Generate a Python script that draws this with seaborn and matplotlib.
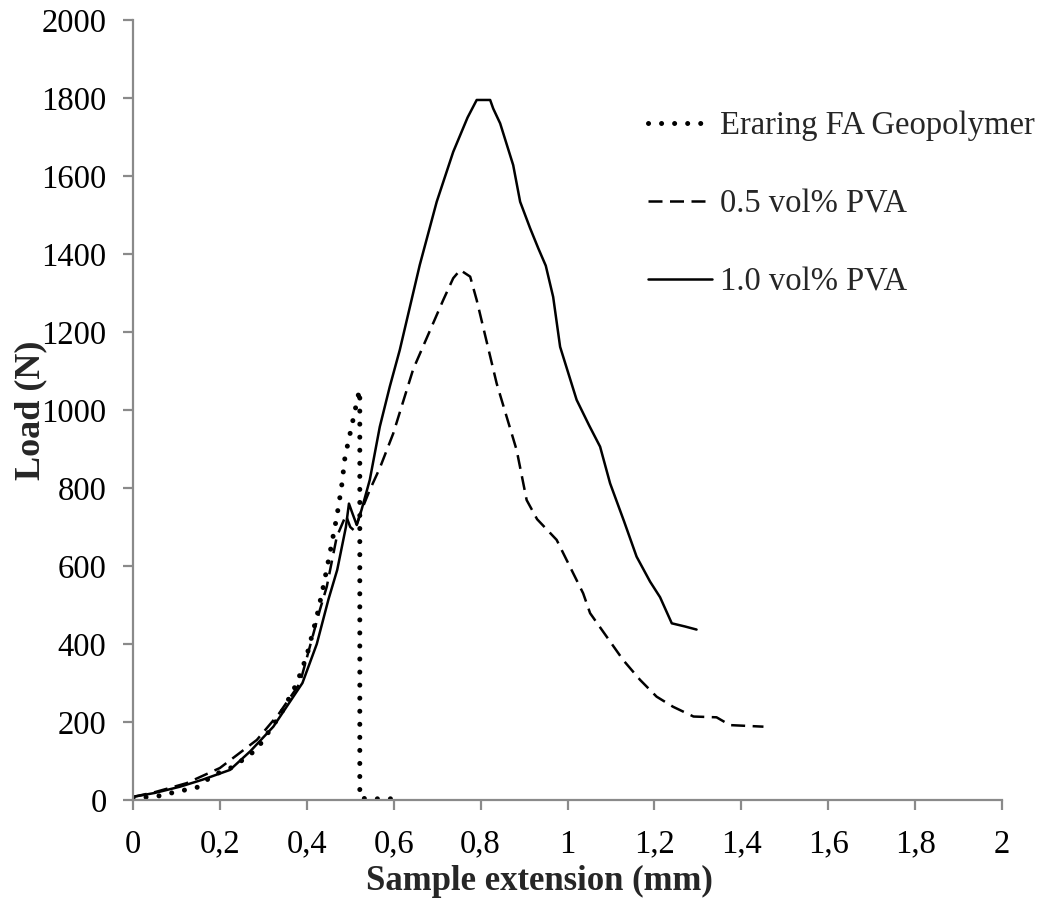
import matplotlib
matplotlib.use("Agg")
import matplotlib.pyplot as plt
import seaborn as sns
import pandas as pd

# ---------------- data ----------------
series_names = ["Eraring FA Geopolymer", "0.5 vol% PVA", "1.0 vol% PVA"]

geo_x = [0, 0.054, 0.10, 0.147, 0.185, 0.231, 0.285, 0.34, 0.377, 0.40, 0.423,
         0.438, 0.453, 0.469, 0.480, 0.488, 0.503, 0.515, 0.521, 0.522, 0.522,
         0.54, 0.575, 0.607]
geo_y = [5, 9, 21, 32, 64, 85, 130, 220, 299, 370, 470,
         547, 632, 726, 803, 880, 957, 1020, 1051, 1040, 5,
         3, 3, 3]

pva05_x = [0, 0.05, 0.123, 0.2, 0.285, 0.335, 0.384, 0.43, 0.446, 0.469, 0.49,
           0.50, 0.51, 0.525, 0.545, 0.568, 0.599, 0.645, 0.714, 0.737, 0.753,
           0.776, 0.791, 0.837, 0.883, 0.906, 0.93, 0.975, 1.036, 1.052, 1.09,
           1.128, 1.167, 1.205, 1.243, 1.29, 1.343, 1.374, 1.451]
pva05_y = [8, 20, 43, 82, 154, 220, 299, 487, 547, 675, 730,
           700, 690, 740, 795, 851, 940, 1105, 1282, 1338, 1359,
           1342, 1282, 1068, 897, 769, 720, 667, 530, 479, 419,
           359, 308, 265, 239, 214, 212, 192, 188]

pva10_x = [0, 0.05, 0.108, 0.16, 0.223, 0.27, 0.323, 0.39, 0.423, 0.45, 0.47,
           0.49, 0.497, 0.505, 0.515, 0.526, 0.545, 0.568, 0.591, 0.614, 0.66,
           0.699, 0.737, 0.77, 0.791, 0.822, 0.829, 0.845, 0.875, 0.891, 0.914,
           0.933, 0.95, 0.967, 0.983, 1.021, 1.05, 1.075, 1.098, 1.13, 1.159,
           1.19, 1.213, 1.24, 1.27, 1.297]
pva10_y = [8, 18, 34, 52, 77, 125, 188, 300, 400, 515, 590,
           700, 760, 735, 705, 744, 821, 957, 1060, 1154, 1372,
           1534, 1662, 1750, 1795, 1795, 1773, 1735, 1628, 1534, 1466,
           1414, 1370, 1290, 1162, 1026, 960, 906, 812, 715, 624,
           560, 520, 453, 445, 437]

x_ticks = [0, 0.2, 0.4, 0.6, 0.8, 1.0, 1.2, 1.4, 1.6, 1.8, 2.0]
x_tick_labels = ["0", "0,2", "0,4", "0,6", "0,8", "1", "1,2", "1,4", "1,6", "1,8", "2"]
y_ticks = [0, 200, 400, 600, 800, 1000, 1200, 1400, 1600, 1800, 2000]

x_label = "Sample extension (mm)"
y_label = "Load (N)"

# ---------------- styling ----------------
sns.set_theme(style="ticks")
plt.rcParams["font.family"] = ["Liberation Serif", "DejaVu Serif"]

fig = plt.figure(figsize=(10.39, 9.02), dpi=100)
ax = fig.add_axes([0.128, 0.1131, 0.8364, 0.8647])

styles = [
    dict(linestyle=(0, (0.01, 2.6)), linewidth=3.6, dash_capstyle="round"),
    dict(linestyle=(0, (5.6, 3.0)), linewidth=1.8, dash_capstyle="butt"),
    dict(linestyle="-", linewidth=1.8),
]
xs = [geo_x, pva05_x, pva10_x]
ys = [geo_y, pva05_y, pva10_y]

for name, x, y, st in zip(series_names, xs, ys, styles):
    df = pd.DataFrame({"x": x, "y": y})
    sns.lineplot(data=df, x="x", y="y", ax=ax, estimator=None, sort=False,
                 color="black", label=name, **st)

ax.set_xlim(0, 2)
ax.set_ylim(0, 2000)
ax.set_xticks(x_ticks)
ax.set_xticklabels(x_tick_labels)
ax.set_yticks(y_ticks)
ax.set_yticklabels([str(v) for v in y_ticks])

sns.despine(ax=ax)
spine_col = "#8a8a8a"
for s in ("left", "bottom"):
    ax.spines[s].set_color(spine_col)
    ax.spines[s].set_linewidth(1.6)
ax.tick_params(axis="both", direction="out", length=7, width=1.6,
               color=spine_col, labelsize=23.5, labelcolor="black")
ax.tick_params(axis="x", pad=14)
ax.tick_params(axis="y", pad=12)

ax.set_xlabel(x_label, fontsize=25, fontweight="bold")
ax.set_ylabel(y_label, fontsize=26, fontweight="bold")
ax.xaxis.set_label_coords(0.468, -0.083)
ax.yaxis.set_label_coords(-0.099, 0.5)

leg = ax.legend(loc="upper left", bbox_to_anchor=(0.6237, 0.877),
                bbox_transform=fig.transFigure, frameon=False,
                handlelength=1.96, handletextpad=0.25, labelspacing=1.46,
                fontsize=23.5, borderpad=0, borderaxespad=0)

fig.savefig("out.png", dpi=100)
